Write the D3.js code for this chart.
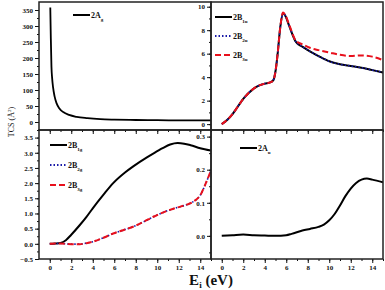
<!DOCTYPE html>
<html>
<head>
<meta charset="utf-8">
<script src="https://cdn.jsdelivr.net/npm/d3@7"></script>
<style>
  body { margin: 0; background: #fff; }
  svg { display: block; }
  text { font-family: "Liberation Serif", "DejaVu Serif", serif; font-weight: bold; fill: #111; }
</style>
</head>
<body>
<svg id="chart" width="385" height="290"></svg>
<script>
// TCS vs incident energy, four symmetry panels
const agSeries = [[0.05,358],[0.1,262],[0.16,172],[0.22,138],[0.31,108],[0.45,80],[0.63,59],[0.9,42],[1.25,31],[1.8,22],[2.5,16],[3.5,12],[4.7,9],[6,7.5],[8,6.2],[10,5.6],[12,5.2],[15,5]];

const b1uSeries = [[0,0],[0.5,0.35],[1,0.85],[1.5,1.5],[2,2.15],[2.5,2.65],[3,3.05],[3.5,3.3],[4,3.45],[4.5,3.55],[4.8,3.75],[5.0,4.5],[5.2,6.0],[5.45,8.3],[5.7,9.45],[5.9,9.25],[6.3,8.3],[6.9,7.0],[7.5,6.6],[8.2,6.2],[9,5.8],[10,5.35],[11,5.1],[12,4.95],[13,4.8],[14,4.6],[15,4.4]];
const b2uSeries = b1uSeries;
const b3uSeries = [[0,0],[0.5,0.35],[1,0.85],[1.5,1.5],[2,2.15],[2.5,2.65],[3,3.05],[3.5,3.3],[4,3.45],[4.5,3.55],[4.8,3.75],[5.0,4.5],[5.2,6.0],[5.45,8.3],[5.7,9.5],[5.9,9.3],[6.3,8.4],[6.9,7.1],[7.5,6.8],[8.2,6.5],[9,6.3],[10,6.1],[11,5.9],[12,5.8],[13,5.85],[14,5.75],[15,5.45]];

const b1gSeries = [[0,0],[0.5,0.01],[1,0.03],[1.5,0.12],[2,0.3],[2.8,0.62],[3.4,0.88],[4,1.17],[5,1.62],[5.9,2.0],[7,2.35],[7.8,2.56],[9,2.84],[9.7,2.99],[10.5,3.15],[11.2,3.27],[11.9,3.32],[12.5,3.3],[13.1,3.25],[14,3.15],[15,3.07]];
const b2gSeries = [[0,0],[1,0.01],[2,-0.01],[2.8,-0.01],[3.5,0.03],[4,0.07],[5,0.2],[5.9,0.34],[7,0.47],[7.8,0.57],[8.7,0.72],[9.7,0.9],[10.8,1.07],[11.9,1.2],[12.5,1.26],[13.1,1.34],[13.6,1.45],[14,1.6],[14.5,1.98],[15,2.42]];
const b3gSeries = b2gSeries;

const auSeries = [[0,0],[1,0.002],[2,0.004],[3,0.002],[4,0.001],[5,0.0],[6,0.002],[6.5,0.006],[7.5,0.016],[8.2,0.021],[9,0.027],[9.5,0.034],[10,0.047],[10.5,0.066],[11,0.092],[11.5,0.12],[12,0.143],[12.5,0.16],[13,0.17],[13.5,0.173],[14,0.17],[15,0.162]];

const xTicks = [0, 2, 4, 6, 8, 10, 12, 14];

const panels = [
  { id: 'tl', box: [39, 2, 211, 130], yDomain: [-25, 375], yTicks: d3.range(0, 351, 50), yMinor: d3.range(0, 351, 25), fmt: d3.format('d'),
    series: [{ data: agSeries, color: '#000', dash: null, width: 1.8 }],
    legend: { x: 73, y: 15, gap: 0, items: [{ label: ['2A', 'g'], color: '#000', dash: null }] } },
  { id: 'tr', box: [211, 2, 383, 130], yDomain: [-0.5, 10.4], yTicks: d3.range(0, 11, 2), yMinor: d3.range(0, 11, 1), fmt: d3.format('d'),
    series: [
      { data: b1uSeries, color: '#000', dash: null, width: 2 },
      { data: b2uSeries, color: '#1a1aa8', dash: '1.5,2', width: 1.6 },
      { data: b3uSeries, color: '#e8101c', dash: '6,3', width: 2 }
    ],
    legend: { x: 215, y: 17, gap: 19, items: [
      { label: ['2B', '1u'], color: '#000', dash: null },
      { label: ['2B', '2u'], color: '#1a1aa8', dash: '1.5,2' },
      { label: ['2B', '3u'], color: '#e8101c', dash: '6,3' }
    ] } },
  { id: 'bl', box: [39, 130, 211, 259], yDomain: [-0.5, 3.75], yTicks: d3.range(-0.5, 3.51, 0.5), yMinor: d3.range(-0.5, 3.76, 0.25), fmt: d3.format('.1f'),
    series: [
      { data: b1gSeries, color: '#000', dash: null, width: 2 },
      { data: b2gSeries, color: '#1a1aa8', dash: '1.5,2', width: 1.6 },
      { data: b3gSeries, color: '#e8101c', dash: '6,3', width: 2 }
    ],
    legend: { x: 50, y: 145, gap: 20, items: [
      { label: ['2B', '1g'], color: '#000', dash: null },
      { label: ['2B', '2g'], color: '#1a1aa8', dash: '1.5,2' },
      { label: ['2B', '3g'], color: '#e8101c', dash: '6,3' }
    ] } },
  { id: 'br', box: [211, 130, 383, 259], yDomain: [-0.07, 0.32], yTicks: [0, 0.1, 0.2, 0.3], yMinor: d3.range(-0.05, 0.31, 0.05), fmt: d3.format('.1f'),
    series: [{ data: auSeries, color: '#000', dash: null, width: 2 }],
    legend: { x: 240, y: 148, gap: 0, items: [{ label: ['2A', 'u'], color: '#000', dash: null }] } }
];

const svg = d3.select('#chart');

panels.forEach((p) => {
  const [x0, y0, x1, y1] = p.box;
  const x = d3.scaleLinear().domain([-1, 15]).range([x0, x1]);
  const y = d3.scaleLinear().domain(p.yDomain).range([y1, y0]);
  const g = svg.append('g');

  g.append('clipPath').attr('id', 'clip-' + p.id)
    .append('rect').attr('x', x0).attr('y', y0).attr('width', x1 - x0).attr('height', y1 - y0);

  const line = d3.line()
    .x(d => x(d[0]))
    .y(d => y(d[1]))
    .curve(d3.curveMonotoneX);

  g.selectAll('path.curve')
    .data(p.series)
    .enter()
    .append('path')
      .attr('class', 'curve')
      .attr('clip-path', `url(#clip-${p.id})`)
      .attr('d', s => line(s.data))
      .style('fill', 'none')
      .style('stroke', s => s.color)
      .style('stroke-width', s => s.width)
      .style('stroke-dasharray', s => s.dash);

  // y axis, ticks outward
  const yAxis = d3.axisLeft(y).tickValues(p.yTicks).tickSize(4).tickPadding(2).tickFormat(p.fmt);
  const ya = g.append('g').attr('transform', `translate(${x0},0)`).call(yAxis);
  g.append('g').attr('transform', `translate(${x0},0)`)
    .call(d3.axisLeft(y).tickValues(p.yMinor).tickSize(2).tickFormat(''))
    .select('.domain').remove();

  // x axis at bottom of each panel, ticks pointing down
  const xAxis = d3.axisBottom(x).tickValues(xTicks).tickSize(4).tickPadding(2).tickFormat(d3.format('d'));
  const xa = g.append('g').attr('transform', `translate(0,${y1})`).call(xAxis);
  g.append('g').attr('transform', `translate(0,${y1})`)
    .call(d3.axisBottom(x).tickValues(d3.range(0, 16, 1)).tickSize(2).tickFormat(''))
    .select('.domain').remove();
  if (y1 < 200) xa.selectAll('text').remove();

  [ya, xa].forEach(a => {
    a.select('.domain').remove();
    a.selectAll('text').style('font-size', '7px').style('font-family', '"Liberation Serif", serif').style('font-weight', 'bold');
  });
  g.selectAll('.tick line').style('stroke', '#111').style('stroke-width', 1);

  g.append('rect')
    .attr('x', x0).attr('y', y0).attr('width', x1 - x0).attr('height', y1 - y0)
    .style('fill', 'none').style('stroke', '#222').style('stroke-width', 1.5);

  // legend
  const lg = g.append('g');
  p.legend.items.forEach((it, i) => {
    const ly = p.legend.y + i * p.legend.gap;
    lg.append('line')
      .attr('x1', p.legend.x).attr('x2', p.legend.x + 17)
      .attr('y1', ly).attr('y2', ly)
      .style('stroke', it.color).style('stroke-width', 2)
      .style('stroke-dasharray', it.dash);
    const t = lg.append('text')
      .attr('x', p.legend.x + 18).attr('y', ly + 3)
      .style('font-size', '8px');
    t.append('tspan').text(it.label[0]);
    t.append('tspan').attr('dy', 2.5).style('font-size', '5px').text(it.label[1]);
  });
});

// axis titles
const yt = svg.append('text')
  .attr('transform', 'translate(14,122) rotate(-90)')
  .attr('text-anchor', 'middle')
  .style('font-size', '8px').style('font-weight', 'normal');
yt.append('tspan').text('TCS (Å');
yt.append('tspan').attr('dy', -3).style('font-size', '5px').text('2');
yt.append('tspan').attr('dy', 3).text(')');

const xt = svg.append('text')
  .attr('x', 211).attr('y', 285)
  .attr('text-anchor', 'middle')
  .style('font-size', '15px');
xt.append('tspan').text('E');
xt.append('tspan').attr('dy', 3).style('font-size', '9px').text('i');
xt.append('tspan').attr('dy', -3).text(' (eV)');
</script>
</body>
</html>
